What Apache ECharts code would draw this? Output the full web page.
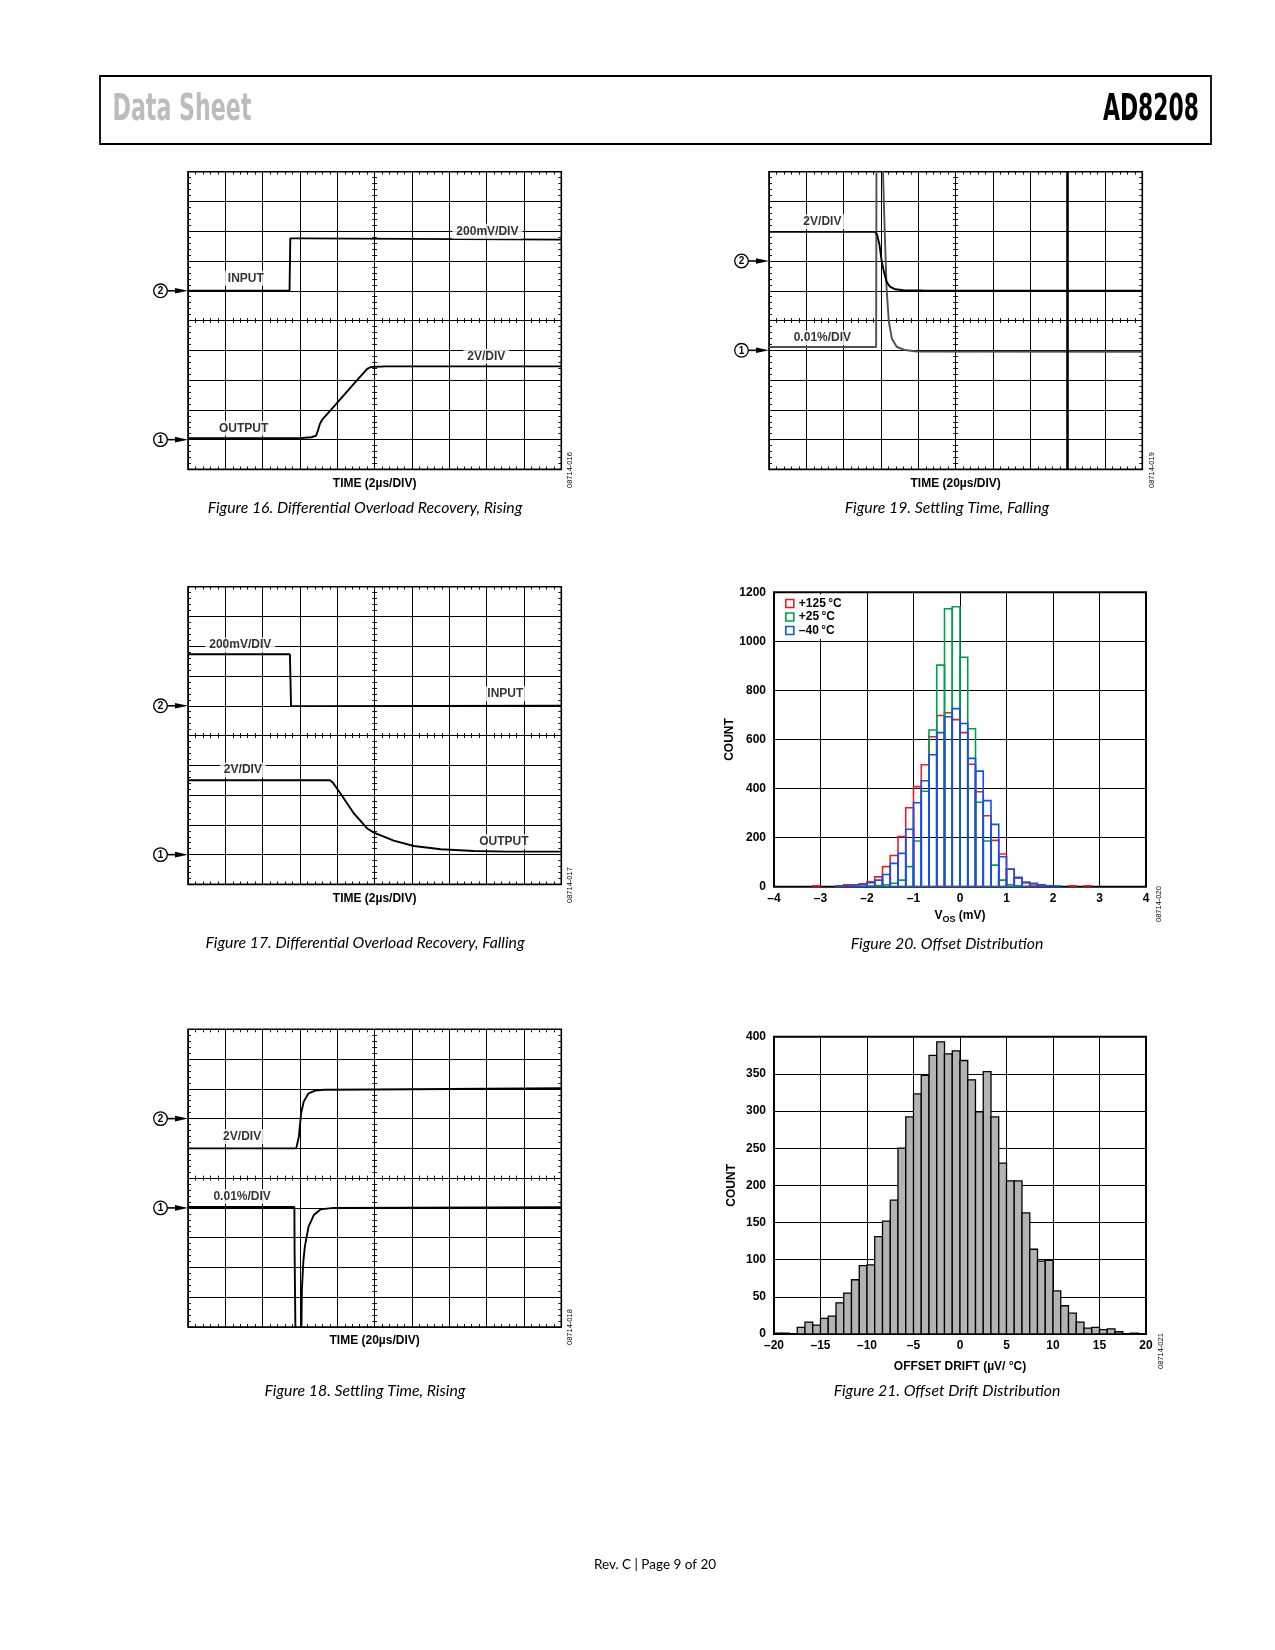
<!DOCTYPE html>
<html>
<head>
<meta charset="utf-8">
<title>AD8208 Data Sheet – page 9</title>
<script src="https://cdn.jsdelivr.net/npm/echarts@6/dist/echarts.min.js"></script>
<style>
  html, body { margin: 0; padding: 0; background: #fff; }
  #page { width: 1275px; height: 1650px; }
</style>
</head>
<body>
<div id="page"></div>
<script>
// ---- scope traces, in divisions (x 0..10 left→right, y 0..10 bottom→top) ----
const fig16Input  = [[0, 6.0], [2.72, 6.0], [2.74, 7.76], [3.1, 7.76], [3.15, 7.72], [10, 7.72]];
const fig16Output = [[0, 1.05], [3.0, 1.05], [3.3, 1.08], [3.43, 1.13], [3.48, 1.3], [3.53, 1.52], [3.59, 1.66],
                     [3.9, 2.1], [4.2, 2.53], [4.5, 2.96], [4.8, 3.38], [4.9, 3.44], [5.3, 3.46], [10, 3.46]];
const fig17Input  = [[0, 7.73], [2.73, 7.73], [2.76, 5.99], [3.1, 5.99], [3.15, 6.0], [10, 6.0]];
const fig17Output = [[0, 3.5], [3.8, 3.5], [3.88, 3.42], [4.08, 3.06], [4.44, 2.39], [4.8, 1.88], [4.98, 1.74],
                     [5.51, 1.47], [6.05, 1.29], [6.77, 1.18], [7.66, 1.12], [8.55, 1.1], [10, 1.1]];
const fig18Ch2 = [[0, 6.0], [2.9, 6.0], [2.97, 6.4], [3.03, 7.18], [3.1, 7.57], [3.23, 7.85], [3.41, 7.94],
                  [3.64, 7.97], [5, 7.98], [10, 8.02]];
const fig18Ch1 = [[0, 4.03], [2.85, 4.03], [2.855, 2.6], [2.88, 2.6], [2.885, -1], [3.03, -1], [3.05, 1.24],
                  [3.09, 2.2], [3.13, 2.7], [3.23, 3.37], [3.37, 3.76], [3.55, 3.95], [3.9, 4.0], [10, 4.02]];
const fig19Ch2 = [[0, 7.98], [2.84, 7.98], [2.9, 7.87], [2.96, 7.54], [3.02, 6.98], [3.08, 6.64], [3.15, 6.3],
                  [3.24, 6.14], [3.38, 6.05], [3.6, 6.02], [4.13, 6.01], [10, 6.0]];
const fig19Ch1 = [[0, 4.11], [2.87, 4.11], [2.88, 11], [3.03, 11], [3.1, 8], [3.15, 6.08], [3.21, 4.96],
                  [3.29, 4.4], [3.42, 4.12], [3.64, 4.01], [3.96, 3.96], [10, 3.95]];
const fig19Cursor = 8;

// on-screen annotations: [text, x div, y div]
const fig16Labels = [['200mV/DIV', 8.02, 8.0], ['INPUT', 1.55, 6.42], ['2V/DIV', 7.99, 3.8], ['OUTPUT', 1.49, 1.38]];
const fig17Labels = [['200mV/DIV', 1.4, 8.04], ['INPUT', 8.5, 6.4], ['2V/DIV', 1.47, 3.84], ['OUTPUT', 8.46, 1.43]];
const fig18Labels = [['2V/DIV', 1.45, 6.4], ['0.01%/DIV', 1.45, 4.38]];
const fig19Labels = [['2V/DIV', 1.43, 8.32], ['0.01%/DIV', 1.43, 4.42]];
// channel markers: [channel, y div]
const fig16Markers = [['2', 6], ['1', 1]];
const fig17Markers = [['2', 6], ['1', 1]];
const fig18Markers = [['2', 7], ['1', 4]];
const fig19Markers = [['2', 7], ['1', 4]];

// ---- Figure 20: offset distribution (bin width 1/6 mV) ----
const vosBinWidth = 0.1667;
const vosBinStart = [-3.167, -3.0, -2.833, -2.667, -2.5, -2.333, -2.167, -2.0, -1.833, -1.667, -1.5, -1.333,
                     -1.167, -1.0, -0.833, -0.667, -0.5, -0.333, -0.167, 0.0, 0.167, 0.333, 0.5, 0.667,
                     0.833, 1.0, 1.167, 1.333, 1.5, 1.667, 1.833, 2.0, 2.167, 2.333, 2.5, 2.667];
const vos125 = [4, 0, 0, 2, 8, 8, 12, 20, 40, 82, 127, 204, 322, 408, 497, 611, 698, 709,
                681, 628, 499, 387, 289, 189, 133, 72, 35, 15, 7, 4, 0, 0, 0, 4, 0, 4];
const vos25  = [0, 0, 0, 0, 0, 0, 0, 3, 5, 8, 14, 27, 82, 186, 389, 639, 903, 1133,
                1141, 935, 644, 344, 186, 88, 27, 8, 4, 1, 0, 0, 0, 0, 0, 0, 0, 0];
const vosM40 = [0, 0, 0, 4, 4, 7, 8, 16, 27, 50, 95, 136, 234, 342, 432, 538, 628, 693,
                726, 665, 523, 471, 351, 254, 122, 71, 38, 19, 14, 8, 4, 3, 0, 0, 0, 0];
const tempNames  = ['+125\u2009°C', '+25\u2009°C', '–40\u2009°C'];
const tempColors = ['#ee1c25', '#00a04a', '#1450f0'];

// ---- Figure 21: offset drift distribution (bin width 5/6 µV/°C) ----
const driftBinWidth = 0.8333;
const driftBinStart = [-20.0, -19.17, -18.33, -17.5, -16.67, -15.83, -15.0, -14.17, -13.33, -12.5, -11.67, -10.83,
                       -10.0, -9.17, -8.33, -7.5, -6.67, -5.83, -5.0, -4.17, -3.33, -2.5, -1.67, -0.83,
                       0.0, 0.83, 1.67, 2.5, 3.33, 4.17, 5.0, 5.83, 6.67, 7.5, 8.33, 9.17,
                       10.0, 10.83, 11.67, 12.5, 13.33, 14.17, 15.0, 15.83, 16.67, 17.5, 18.33];
const driftCount = [1, 1, 0, 9, 16, 12, 21, 24, 42, 55, 73, 92,
                    93, 131, 152, 180, 250, 292, 323, 348, 375, 393, 377, 381,
                    368, 342, 299, 353, 292, 230, 206, 206, 163, 114, 98, 99,
                    58, 38, 28, 16, 8, 9, 6, 7, 3, 0, 1];

// ---- layout ----
const FONT = '"Liberation Sans", Arial, Helvetica, sans-serif';
const HEAD_FONT = '"Liberation Sans Narrow", "DejaVu Sans Condensed", Arial, sans-serif';
const SW = 373.3, SH = 297.7;
const scopeBoxes = [
  { left: 188, top: 171.7, name: 'TIME (2µs/DIV)' },   // fig 16
  { left: 188, top: 586.7, name: 'TIME (2µs/DIV)' },   // fig 17
  { left: 188, top: 1029.3, name: 'TIME (20µs/DIV)' }, // fig 18
  { left: 769, top: 171.7, name: 'TIME (20µs/DIV)' }   // fig 19
];
const histBoxes = [
  { left: 774, top: 592.3, width: 372, height: 294.4 },  // fig 20
  { left: 774, top: 1036.7, width: 372, height: 297.3 }  // fig 21
];

const grids = [], xAxes = [], yAxes = [], series = [];
const blackLine = { color: '#000', width: 1 };

function addScope(box) {
  const g = grids.length;
  grids.push({ left: box.left, top: box.top, width: SW, height: SH, show: true,
               borderColor: '#000', borderWidth: 1.6, backgroundColor: 'transparent' });
  const base = {
    gridIndex: g, type: 'value', min: 0, max: 10, interval: 1, silent: true,
    axisLabel: { show: false },
    axisLine: { show: false, onZero: false },
    axisTick: { show: false, inside: true },
    minorTick: { show: true, splitNumber: 5, length: 3, lineStyle: { color: '#000', width: 0.9 } },
    splitLine: { show: false }
  };
  const centreTick = Object.assign({}, base.minorTick, { length: 2.5 });
  const ax = { x: xAxes.length, y: yAxes.length };
  xAxes.push(Object.assign({}, base, {
    position: 'bottom', splitLine: { show: true, lineStyle: blackLine },
    name: box.name, nameLocation: 'middle', nameGap: 8,
    nameTextStyle: { fontFamily: FONT, fontWeight: 'bold', fontSize: 12, color: '#000' }
  }));
  xAxes.push(Object.assign({}, base, { position: 'top' }));
  xAxes.push(Object.assign({}, base, { position: 'bottom', offset: -SH / 2, minorTick: centreTick }));
  xAxes.push(Object.assign({}, base, { position: 'bottom', offset: -SH / 2, minorTick: centreTick,
    axisTick: { show: false, inside: false } }));
  yAxes.push(Object.assign({}, base, { position: 'left', splitLine: { show: true, lineStyle: blackLine } }));
  yAxes.push(Object.assign({}, base, { position: 'right' }));
  yAxes.push(Object.assign({}, base, { position: 'left', offset: -SW / 2, minorTick: centreTick }));
  yAxes.push(Object.assign({}, base, { position: 'left', offset: -SW / 2, minorTick: centreTick,
    axisTick: { show: false, inside: false } }));
  return ax;
}

function trace(ax, name, data, color, extra) {
  series.push(Object.assign({
    type: 'line', name, xAxisIndex: ax.x, yAxisIndex: ax.y, data,
    symbol: 'none', smooth: false, clip: true, silent: true, z: 3,
    lineStyle: { color, width: 1.9 }
  }, extra || {}));
  return series.length - 1;
}

function scopeLabels(ax, labels) {
  series.push({
    type: 'scatter', xAxisIndex: ax.x, yAxisIndex: ax.y, silent: true, z: 4,
    symbolSize: 1, itemStyle: { color: 'rgba(0,0,0,0)' },
    data: labels.map(l => ({ name: l[0], value: [l[1], l[2]] })),
    label: { show: true, position: 'inside', formatter: '{b}', color: '#000',
             fontFamily: FONT, fontWeight: 'bold', fontSize: 12,
             backgroundColor: '#fff', padding: [2, 4, 1, 4] }
  });
}

const minusFmt = v => (v < 0 ? '–' + (-v) : String(v));
function addHist(box, xr, yr, xName, yGap, xGap) {
  const g = grids.length;
  grids.push({ left: box.left, top: box.top, width: box.width, height: box.height, show: true,
               borderColor: '#000', borderWidth: 2, backgroundColor: 'transparent' });
  const labelStyle = { fontFamily: FONT, fontWeight: 'bold', fontSize: 12, color: '#000' };
  const ax = { x: xAxes.length, y: yAxes.length };
  xAxes.push({
    gridIndex: g, type: 'value', min: xr[0], max: xr[1], interval: xr[2], silent: true,
    axisLine: { show: false, onZero: false }, axisTick: { show: false },
    splitLine: { show: true, lineStyle: blackLine },
    axisLabel: Object.assign({ formatter: minusFmt, margin: 6 }, labelStyle),
    name: xName, nameLocation: 'middle', nameGap: xGap,
    nameTextStyle: Object.assign({}, labelStyle, {
      rich: {
        v: { fontFamily: FONT, fontWeight: 'bold', fontSize: 12, color: '#000', lineHeight: 16 },
        s: { fontFamily: FONT, fontWeight: 'bold', fontSize: 9, color: '#000', lineHeight: 16,
             verticalAlign: 'bottom', padding: [5, 0, 0, 0] }
      }
    })
  });
  yAxes.push({
    gridIndex: g, type: 'value', min: yr[0], max: yr[1], interval: yr[2], silent: true,
    axisLine: { show: false, onZero: false }, axisTick: { show: false },
    splitLine: { show: true, lineStyle: blackLine },
    axisLabel: Object.assign({ margin: 8, formatter: v => String(v) }, labelStyle),
    name: 'COUNT', nameLocation: 'middle', nameGap: yGap, nameRotate: 90,
    nameTextStyle: labelStyle
  });
  return ax;
}

function histSeries(ax, name, starts, width, counts, style) {
  series.push({
    type: 'custom', name, xAxisIndex: ax.x, yAxisIndex: ax.y, silent: true, clip: true, z: 3,
    itemStyle: { color: style.stroke },
    data: starts.map((s, i) => [s, s + width, counts[i]]).filter(d => d[2] > 0),
    renderItem: (params, api) => {
      const a = api.coord([api.value(0), 0]);
      const b = api.coord([api.value(1), api.value(2)]);
      return { type: 'rect', shape: { x: a[0], y: b[1], width: b[0] - a[0], height: a[1] - b[1] },
               style: Object.assign({}, style) };
    }
  });
}

// ---- build ----
const ax16 = addScope(scopeBoxes[0]);
const ax17 = addScope(scopeBoxes[1]);
const ax18 = addScope(scopeBoxes[2]);
const ax19 = addScope(scopeBoxes[3]);

const s16 = trace(ax16, 'input', fig16Input, '#000');
trace(ax16, 'output', fig16Output, '#000');
scopeLabels(ax16, fig16Labels);
const s17 = trace(ax17, 'input', fig17Input, '#000');
trace(ax17, 'output', fig17Output, '#000');
scopeLabels(ax17, fig17Labels);
const s18 = trace(ax18, 'ch2', fig18Ch2, '#000');
trace(ax18, 'ch1', fig18Ch1, '#000');
scopeLabels(ax18, fig18Labels);
const s19 = trace(ax19, 'ch1', fig19Ch1, '#505050', {
  markLine: { silent: true, symbol: 'none', animation: false, label: { show: false },
              lineStyle: { color: '#000', width: 2.6, type: 'solid' },
              data: [{ xAxis: fig19Cursor }] }
});
trace(ax19, 'ch2', fig19Ch2, '#000');
scopeLabels(ax19, fig19Labels);

const ax20 = addHist(histBoxes[0], [-4, 4, 1], [0, 1200, 200], '{v|V}{s|OS}{v| (mV)}', 29, 21);
histSeries(ax20, tempNames[0], vosBinStart, vosBinWidth, vos125, { fill: 'none', stroke: tempColors[0], lineWidth: 1.6 });
histSeries(ax20, tempNames[1], vosBinStart, vosBinWidth, vos25,  { fill: 'none', stroke: tempColors[1], lineWidth: 1.6 });
histSeries(ax20, tempNames[2], vosBinStart, vosBinWidth, vosM40, { fill: 'none', stroke: tempColors[2], lineWidth: 1.6 });

const ax21 = addHist(histBoxes[1], [-20, 20, 5], [0, 400, 50], 'OFFSET DRIFT (µV/ °C)', 36, 27);
histSeries(ax21, 'drift', driftBinStart, driftBinWidth, driftCount, { fill: '#b3b3b3', stroke: '#000', lineWidth: 1.3 });

const chart = echarts.init(document.getElementById('page'), null, { renderer: 'canvas' });
chart.setOption({
  animation: false,
  backgroundColor: '#fff',
  grid: grids,
  xAxis: xAxes,
  yAxis: yAxes,
  legend: {
    show: true, selectedMode: false, orient: 'vertical', left: 782, top: 594.5,
    padding: [3, 5, 2.5, 3], backgroundColor: '#fff',
    itemWidth: 8, itemHeight: 8, itemGap: 1.5,
    data: tempNames.map((n, i) => ({ name: n, icon: 'rect',
      itemStyle: { color: '#fff', borderColor: tempColors[i], borderWidth: 1.6 } })),
    textStyle: { fontFamily: FONT, fontWeight: 'bold', fontSize: 12, color: '#000', lineHeight: 12 }
  },
  series: series
});

// squeeze the condensed header words to the widths they take on the page
function fitScale(text, font, target) {
  const ctx = document.createElement('canvas').getContext('2d');
  ctx.font = font;
  const w = ctx.measureText(text).width;
  return w > 0 ? target / w : 1;
}
const headFontCss = ' 38px ' + HEAD_FONT;
const dsScale = fitScale('Data Sheet', 'bold' + headFontCss, 139);
const adScale = fitScale('AD8208', 'bold' + headFontCss, 96);

// ---- page furniture and channel markers ----
const graphics = [
  { type: 'rect', shape: { x: 100, y: 76, width: 1111, height: 68 },
    style: { fill: 'none', stroke: '#000', lineWidth: 1.8 } },
  { type: 'text', x: 112.5, y: 110.5, scaleX: dsScale,
    style: { text: 'Data Sheet', fontFamily: HEAD_FONT, fontWeight: 'bold',
             fontSize: 38, fill: '#bcbcbc', align: 'left', verticalAlign: 'middle' } },
  { type: 'text', x: 1199, y: 110.5, scaleX: adScale,
    style: { text: 'AD8208', fontFamily: HEAD_FONT, fontWeight: 'bold',
             fontSize: 38, fill: '#000', align: 'right', verticalAlign: 'middle' } },
  { type: 'text', x: 655, y: 1565,
    style: { text: 'Rev. C | Page 9 of 20', fontFamily: 'Lato, "Open Sans", sans-serif', fontSize: 13.5,
             fill: '#000', align: 'center', verticalAlign: 'middle' } }
];

const captions = [
  ['Figure 16. Differential Overload Recovery, Rising', 365, 508],
  ['Figure 17. Differential Overload Recovery, Falling', 365, 942.5],
  ['Figure 18. Settling Time, Rising', 365, 1390.5],
  ['Figure 19. Settling Time, Falling', 947, 508],
  ['Figure 20. Offset Distribution', 947, 943.5],
  ['Figure 21. Offset Drift Distribution', 947, 1390.5]
];
captions.forEach(c => graphics.push({ type: 'text', x: c[1], y: c[2],
  style: { text: c[0], fontFamily: 'Lato, "Open Sans", sans-serif', fontStyle: 'italic', fontSize: 15.8,
           fill: '#000', align: 'center', verticalAlign: 'middle' } }));

const figCodes = [['08714-016', 570, 488], ['08714-017', 570, 903], ['08714-018', 570, 1345],
                  ['08714-019', 1152, 488], ['08714-020', 1159, 922], ['08714-021', 1161, 1369]];
figCodes.forEach(c => graphics.push({ type: 'text', x: c[1], y: c[2], rotation: Math.PI / 2,
  style: { text: c[0], fontFamily: FONT, fontSize: 7.5, fill: '#000', align: 'left', verticalAlign: 'middle' } }));

function addMarkers(seriesIndex, box, markers) {
  markers.forEach(m => {
    const p = chart.convertToPixel({ seriesIndex }, [0, m[1]]);
    const cx = box.left - 27.5, y = p[1];
    graphics.push(
      { type: 'line', shape: { x1: cx + 6, y1: y, x2: box.left - 8, y2: y }, style: { stroke: '#000', lineWidth: 1.6 } },
      { type: 'polygon', shape: { points: [[box.left - 13, y - 2.8], [box.left, y], [box.left - 13, y + 2.8]] },
        style: { fill: '#000' } },
      { type: 'circle', shape: { cx, cy: y, r: 6.8 }, style: { fill: '#fff', stroke: '#000', lineWidth: 1.3 } },
      { type: 'text', x: cx, y: y + 0.5,
        style: { text: m[0], fontFamily: FONT, fontWeight: 'bold', fontSize: 10, fill: '#000',
                 align: 'center', verticalAlign: 'middle' } }
    );
  });
}
addMarkers(s16, scopeBoxes[0], fig16Markers);
addMarkers(s17, scopeBoxes[1], fig17Markers);
addMarkers(s18, scopeBoxes[2], fig18Markers);
addMarkers(s19, scopeBoxes[3], fig19Markers);

chart.setOption({ graphic: graphics });
</script>
</body>
</html>
